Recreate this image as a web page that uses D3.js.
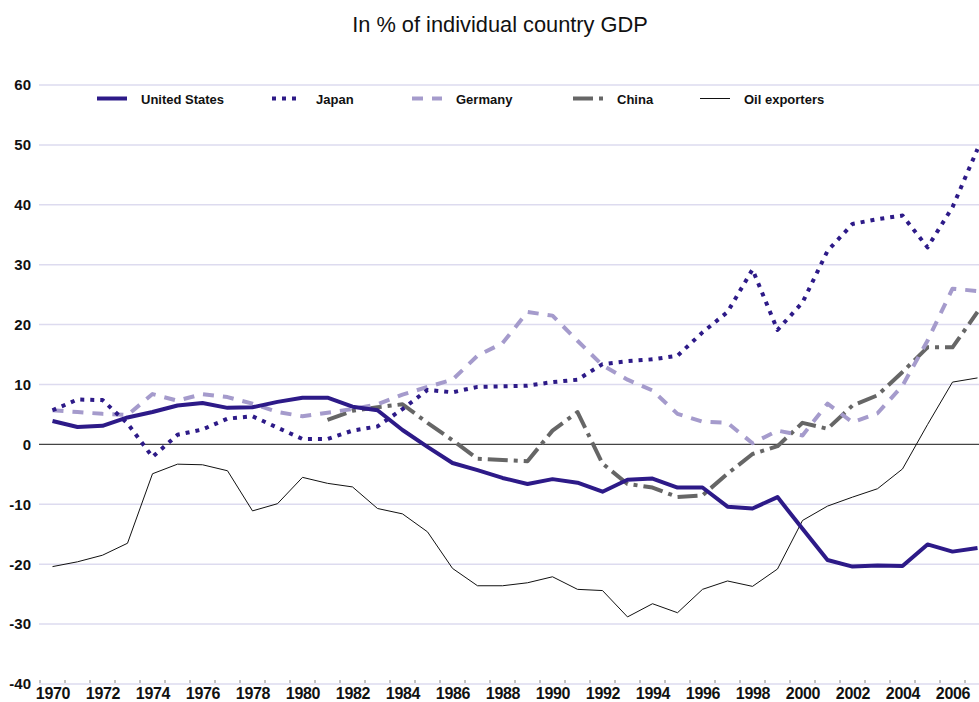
<!DOCTYPE html>
<html><head><meta charset="utf-8">
<script src="https://cdn.jsdelivr.net/npm/d3@7"></script>
<style>
body{margin:0;background:#fff;}
svg{display:block;font-family:"Liberation Sans",Arial,sans-serif;}
</style></head>
<body><svg id="c" width="979" height="702"></svg>
<script>
const years = d3.range(1970, 2008);
const yTicks = [-40, -30, -20, -10, 0, 10, 20, 30, 40, 50, 60];
const seriesNames = ["United States", "Japan", "Germany", "China", "Oil exporters"];
const unitedStates = [3.9, 2.9, 3.1, 4.5, 5.4, 6.5, 6.9, 6.1, 6.2, 7.1, 7.8, 7.8, 6.3, 5.7, 2.4, -0.4, -3.1, -4.3, -5.6, -6.6, -5.8, -6.4, -7.9, -5.9, -5.7, -7.2, -7.2, -10.4, -10.7, -8.8, -14.1, -19.3, -20.4, -20.2, -20.3, -16.7, -17.9, -17.3];
const japan = [5.7, 7.5, 7.4, 3.5, -2.1, 1.6, 2.5, 4.3, 4.7, 2.8, 0.9, 0.9, 2.3, 3.0, 5.9, 9.1, 8.7, 9.6, 9.7, 9.8, 10.4, 10.8, 13.4, 13.9, 14.2, 14.8, 18.7, 22.1, 29.2, 19.1, 23.7, 32.3, 36.8, 37.6, 38.2, 32.9, 39.6, 49.3];
const germany = [5.7, 5.4, 5.1, 4.9, 8.4, 7.3, 8.4, 7.9, 6.8, 5.4, 4.7, 5.3, 5.9, 6.7, 8.3, 9.6, 10.8, 14.8, 16.9, 22.1, 21.5, 17.3, 13.2, 10.8, 9.0, 5.1, 3.8, 3.6, 0.2, 2.3, 1.5, 6.8, 3.7, 5.2, 9.8, 17.3, 26.0, 25.6];
const china = [null, null, null, null, null, null, null, null, null, null, null, 4.1, 5.6, 6.2, 6.7, 3.6, 0.7, -2.4, -2.6, -2.8, 2.3, 5.4, -3.2, -6.6, -7.2, -8.8, -8.5, -4.9, -1.6, -0.3, 3.6, 2.6, 6.5, 8.2, 12.1, 16.2, 16.2, 22.1];
const oilExporters = [-20.4, -19.6, -18.5, -16.5, -4.9, -3.3, -3.4, -4.4, -11.1, -9.9, -5.5, -6.5, -7.1, -10.7, -11.6, -14.6, -20.7, -23.6, -23.6, -23.1, -22.1, -24.2, -24.4, -28.8, -26.6, -28.1, -24.2, -22.8, -23.7, -20.8, -12.7, -10.3, -8.8, -7.4, -4.1, 3.3, 10.4, 11.1];

const svg = d3.select("#c");
const x = d3.scaleBand().domain(years).range([40, 990]);
const y = d3.scaleLinear().domain([-40, 60]).range([684, 85]);
const xc = d => x(d) + x.bandwidth() / 2;

svg.append("text").attr("x", 500).attr("y", 32).attr("text-anchor", "middle")
  .attr("font-size", 21.8).attr("fill", "#111").text("In % of individual country GDP");

// gridlines
svg.append("g").selectAll("line").data(yTicks.filter(t => t !== 0)).join("line")
  .attr("x1", 39).attr("x2", 979).attr("y1", d => y(d)).attr("y2", d => y(d))
  .attr("stroke", "#dddbef").attr("stroke-width", 1.5);

// y axis labels
const ya = svg.append("g").attr("transform", "translate(39,0)")
  .call(d3.axisLeft(y).tickValues(yTicks).tickFormat(d => String(d)).tickSize(0).tickPadding(8));
ya.select(".domain").remove();
ya.selectAll("text").attr("font-size", 15).attr("font-weight", "bold").attr("fill", "#111")
  .attr("font-family", "Liberation Sans, Arial, sans-serif");

// x ticks at band boundaries
svg.append("g").selectAll("line").data(years).join("line")
  .attr("x1", d => x(d)).attr("x2", d => x(d)).attr("y1", 680).attr("y2", 683)
  .attr("stroke", "#888").attr("stroke-width", 1);

const xa = svg.append("g").attr("transform", "translate(0,684)")
  .call(d3.axisBottom(x).tickValues(years.filter(d => d % 2 === 0)).tickFormat(d => String(d)).tickSize(0).tickPadding(4));
xa.select(".domain").remove();
xa.selectAll("text").attr("font-size", 16).attr("font-weight", "bold").attr("fill", "#111")
  .attr("dx", "0.5").attr("font-family", "Liberation Sans, Arial, sans-serif").attr("letter-spacing", "-0.3");

// zero line
svg.append("line").attr("x1", 39).attr("x2", 979).attr("y1", y(0)).attr("y2", y(0))
  .attr("stroke", "#444").attr("stroke-width", 1.2);

const styles = {
  "United States": {data: unitedStates, color: "#2d1a88", w: 4, dash: null},
  "Japan": {data: japan, color: "#2d1a88", w: 4, dash: "4,6"},
  "Germany": {data: germany, color: "#a59bcc", w: 4, dash: "11,9"},
  "China": {data: china, color: "#666666", w: 4, dash: "20,6,4,6"},
  "Oil exporters": {data: oilExporters, color: "#111", w: 1, dash: null}
};

const line = d3.line().defined(d => d[1] !== null).x(d => xc(d[0])).y(d => y(d[1]));
const drawOrder = ["Oil exporters", "China", "Germany", "Japan", "United States"];
drawOrder.forEach(n => {
  const s = styles[n];
  svg.append("path").datum(years.map((yr, i) => [yr, s.data[i]]))
    .attr("d", line).attr("fill", "none").attr("stroke", s.color)
    .attr("stroke-width", s.w).attr("stroke-dasharray", s.dash)
    .attr("stroke-linejoin", "round");
});

// legend
const legX = [97, 272, 412, 573, 700];
const lg = svg.append("g");
seriesNames.forEach((n, i) => {
  const s = styles[n];
  lg.append("line").attr("x1", legX[i]).attr("x2", legX[i] + 30).attr("y1", 98.5).attr("y2", 98.5)
    .attr("stroke", s.color).attr("stroke-width", s.w).attr("stroke-dasharray", s.dash);
  lg.append("text").attr("x", legX[i] + 44).attr("y", 103.5).attr("font-size", 13)
    .attr("font-weight", "bold").attr("fill", "#111").text(n);
});
</script></body></html>
